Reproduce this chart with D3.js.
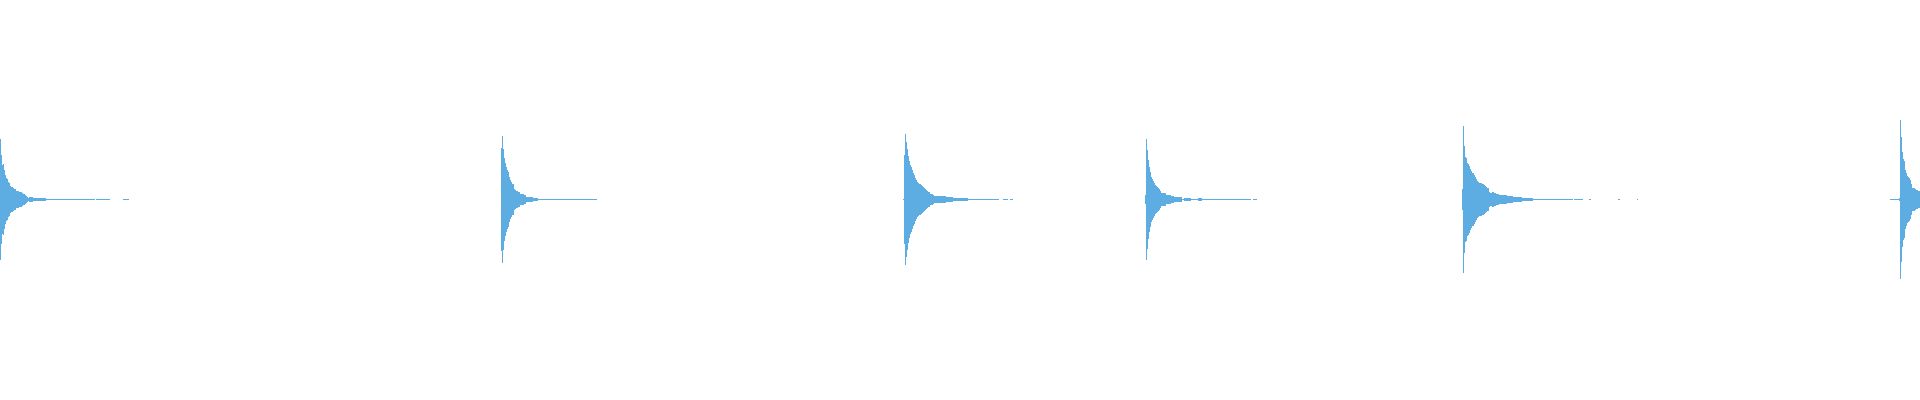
<!DOCTYPE html>
<html>
<head>
<meta charset="utf-8">
<script src="https://cdn.jsdelivr.net/npm/d3@7"></script>
<style>
  html, body { margin: 0; padding: 0; background: #ffffff; overflow: hidden; }
  svg { display: block; }
</style>
</head>
<body>
<svg id="chart" width="1920" height="400"></svg>
<script>
// Waveform peak data: buckets across the timeline, amplitude normalised to full scale (0..1)
const totalBuckets = 1920;
const waveColor = "#5DADE2";

// onset bucket of each transient
const onsets = [0, 501, 903, 1145, 1462, 1890];

// run-length envelopes: [bucketCount, peakAmplitude]
const burst1 = [[1,.305],[1,.222],[1,.175],[1,.18],[1,.15],[1,.125],[1,.11],[1,.102],[1,.09],[1,.085],
  [1,.07],[1,.065],[1,.062],[1,.057],[2,.052],[3,.045],[3,.04],[1,.035],[2,.03],[1,.025],[1,.02],[1,.015],
  [1,.01],[4,.0125],[13,.0075],[6,.0025],[4,.005],[2,.0025],[2,.005],[1,.0025],[2,.005],[32,.0025],
  [1,0],[14,.0025],[13,0],[6,.0025]];
const burst2 = [[1,.26],[1,.32],[1,.255],[1,.207],[1,.182],[1,.162],[1,.15],[1,.137],[1,.112],[1,.097],
  [1,.087],[2,.077],[1,.055],[1,.047],[2,.042],[2,.037],[4,.027],[2,.022],[3,.015],[4,.0115],[5,.0075],
  [15,.005],[44,.0025]];
const burst3 = [[1,.0025],[1,.222],[1,.33],[1,.287],[1,.255],[1,.22],[1,.195],[1,.175],[1,.165],[1,.147],
  [1,.135],[1,.122],[1,.107],[1,.097],[1,.087],[1,.082],[2,.077],[1,.072],[1,.067],[1,.062],[1,.057],
  [1,.052],[1,.047],[1,.042],[2,.037],[3,.03],[1,.022],[12,.017],[7,.0125],[15,.0075],[14,.005],
  [17,.0025],[4,0],[5,.0025],[2,0],[3,.0025]];
const burst4 = [[1,.025],[1,.302],[1,.247],[1,.197],[1,.162],[1,.137],[1,.112],[1,.102],[1,.092],[1,.082],
  [1,.072],[1,.067],[1,.062],[1,.057],[1,.052],[1,.042],[5,.032],[5,.022],[3,.017],[8,.0125],[2,.005],
  [7,.0075],[7,.005],[4,.0075],[8,.005],[6,.0025],[5,.005],[30,.0025],[2,0],[4,.0025]];
const burst5 = [[1,.055],[1,.37],[1,.267],[1,.215],[1,.207],[1,.182],[1,.177],[1,.167],[1,.152],[1,.142],
  [2,.132],[1,.122],[1,.112],[1,.102],[1,.092],[1,.087],[3,.082],[2,.077],[1,.072],[1,.067],[1,.062],
  [2,.057],[1,.037],[2,.032],[2,.037],[2,.032],[3,.027],[8,.022],[6,.017],[9,.0125],[11,.0075],[16,.005],
  [24,.0025],[1,0],[9,.0025],[6,0],[2,.0025],[27,0],[2,.0025],[17,0],[1,.0025]];
const burst6 = [[9,.0025],[1,.0075],[1,.397],[1,.312],[1,.237],[1,.205],[1,.192],[1,.147],[1,.132],[1,.117],
  [1,.115],[1,.11],[1,.097],[1,.08],[1,.06],[1,.06],[1,.057],[1,.055],[1,.05],[1,.047],[2,.042]];

const bursts = [burst1, burst2, burst3, burst4, burst5, burst6];

// expand into per-bucket peaks
const peaks = [];
bursts.forEach((runs, k) => {
  let i = onsets[k];
  runs.forEach(([n, a]) => {
    for (let j = 0; j < n; j++, i++) {
      if (a > 0 && i < totalBuckets) peaks.push({ bucket: i, amp: a });
    }
  });
});

const svg = d3.select("#chart");
const W = 1920, H = 400;
const x = d3.scaleLinear().domain([0, totalBuckets]).range([0, W]);
const y = d3.scaleLinear().domain([-1, 1]).range([H - 1, 0]);

svg.append("g")
  .attr("shape-rendering", "crispEdges")
  .selectAll("rect")
  .data(peaks)
  .join("rect")
  .attr("x", d => x(d.bucket))
  .attr("width", d => x(d.bucket + 1) - x(d.bucket))
  .attr("y", d => y(d.amp))
  .attr("height", d => Math.max(1, y(-d.amp) - y(d.amp)))
  .attr("fill", waveColor);
</script>
</body>
</html>
